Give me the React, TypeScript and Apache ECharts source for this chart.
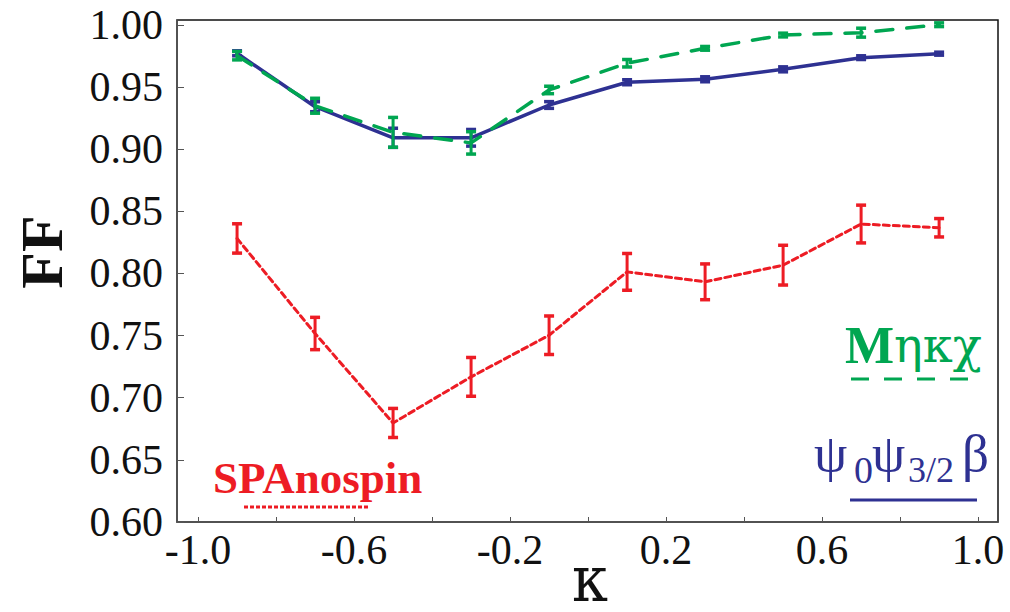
import React, { useEffect, useRef } from "react";
import * as echarts from "echarts";

const kappa = [-0.9, -0.7, -0.5, -0.3, -0.1, 0.1, 0.3, 0.5, 0.7, 0.9];

const mnkxFF = [0.9753, 0.935, 0.9136, 0.9051, 0.9477, 0.9692, 0.9812, 0.9919, 0.9938, 1.0002];
const mnkxErr = [0.0034, 0.006, 0.012, 0.009, 0.003, 0.003, 0.0015, 0.0015, 0.0036, 0.0015];

const psiFF = [0.9772, 0.9342, 0.9092, 0.9092, 0.9356, 0.9539, 0.9563, 0.9643, 0.9737, 0.9769];
const psiErr = [0.002, 0.004, 0.0077, 0.0067, 0.0027, 0.002, 0.002, 0.002, 0.0015, 0.0012];

const spaFF = [0.8282, 0.7517, 0.6797, 0.7168, 0.7503, 0.8013, 0.7933, 0.8067, 0.8398, 0.8368];
const spaErr = [0.0118, 0.013, 0.0117, 0.0156, 0.0155, 0.0148, 0.0144, 0.016, 0.0152, 0.0074];

const xTickValues = [-1.0, -0.8, -0.6, -0.4, -0.2, 0.0, 0.2, 0.4, 0.6, 0.8, 1.0];
const xLabelValues = [-1.0, -0.6, -0.2, 0.2, 0.6, 1.0];
const yTickValues = [0.6, 0.65, 0.7, 0.75, 0.8, 0.85, 0.9, 0.95, 1.0];

const GREEN = "#00a651";
const BLUE = "#2e3192";
const RED = "#ed1c24";
const SERIF = "Liberation Serif";
const GREEK = "DejaVu Serif";

function errorSeries(vals: number[], errs: number[], color: string, z: number) {
  return {
    type: "custom",
    z,
    encode: { x: 0, y: [1, 2, 3] },
    data: kappa.map((k, i) => [k, vals[i], vals[i] - errs[i], vals[i] + errs[i]]),
    renderItem: (_params: any, api: any) => {
      const x = api.value(0);
      const lo = api.coord([x, api.value(2)]);
      const hi = api.coord([x, api.value(3)]);
      const half = 5;
      const st = { stroke: color, lineWidth: 3 };
      return {
        type: "group",
        children: [
          { type: "line", shape: { x1: lo[0], y1: lo[1], x2: hi[0], y2: hi[1] }, style: st },
          { type: "line", shape: { x1: lo[0] - half, y1: lo[1], x2: lo[0] + half, y2: lo[1] }, style: { ...st, lineWidth: 3.5 } },
          { type: "line", shape: { x1: hi[0] - half, y1: hi[1], x2: hi[0] + half, y2: hi[1] }, style: { ...st, lineWidth: 3.5 } },
        ],
      };
    },
  };
}

function lineSeries(vals: number[], color: string, dash: any, width: number, z: number) {
  return {
    type: "line",
    z,
    data: kappa.map((k, i) => [k, vals[i]]),
    symbol: "none",
    lineStyle: { color, width, type: dash, cap: "round" },
  };
}

export default function App() {
  const ref = useRef<HTMLDivElement>(null);
  useEffect(() => {
    const chart = echarts.init(ref.current!, null, { renderer: "svg" });
    const option: any = {
      animation: false,
      backgroundColor: "#ffffff",
      grid: {
        left: 177,
        top: 20,
        width: 821,
        height: 502,
        show: true,
        borderColor: "#111",
        borderWidth: 1.5,
        backgroundColor: "transparent",
      },
      xAxis: {
        type: "value",
        min: -1.054,
        max: 1.051,
        axisLine: { show: true, onZero: false, lineStyle: { color: "#555", width: 1.5 } },
        axisTick: { show: true, inside: true, length: 5, customValues: xTickValues, lineStyle: { color: "#555" } },
        axisLabel: {
          customValues: xLabelValues,
          formatter: (v: number) => v.toFixed(1),
          fontFamily: SERIF,
          fontSize: 42,
          color: "#111",
          margin: 7,
        },
        splitLine: { show: false },
      },
      yAxis: {
        type: "value",
        min: 0.6,
        max: 1.004,
        axisLine: { show: true, onZero: false, lineStyle: { color: "#555", width: 1.5 } },
        axisTick: { show: true, inside: true, length: 7, customValues: yTickValues, lineStyle: { color: "#555" } },
        axisLabel: {
          customValues: yTickValues,
          formatter: (v: number) => v.toFixed(2),
          fontFamily: SERIF,
          fontSize: 42,
          color: "#111",
          margin: 14,
        },
        splitLine: { show: false },
      },
      graphic: [
        {
          type: "text",
          x: 42,
          y: 252,
          rotation: Math.PI / 2,
          style: { text: "FF", fontFamily: SERIF, fontWeight: "bold", fontSize: 60, fill: "#111", align: "center", verticalAlign: "middle" },
        },
        {
          type: "text",
          x: 590,
          y: 578,
          scaleX: 0.9,
          style: { text: "κ", fontFamily: GREEK, fontSize: 64, fill: "#111", align: "center", verticalAlign: "middle" },
        },
        // green legend
        {
          type: "text",
          x: 845,
          y: 345,
          style: {
            text: "{b|M}{n|ηκχ}",
            fill: GREEN,
            align: "left",
            verticalAlign: "middle",
            rich: {
              b: { fontFamily: SERIF, fontWeight: "bold", fontSize: 52, fill: GREEN },
              n: { fontFamily: GREEK, fontSize: 48, fill: GREEN },
            },
          },
        },
        {
          type: "line",
          shape: { x1: 851, y1: 379, x2: 972, y2: 379 },
          style: { stroke: GREEN, lineWidth: 3, lineDash: [18, 15] },
        },
        // blue legend
        {
          type: "text",
          x: 814,
          y: 453,
          style: { text: "ψ", fontFamily: SERIF, fontSize: 53, fill: BLUE, align: "left", verticalAlign: "middle" },
        },
        {
          type: "text",
          x: 854,
          y: 470,
          style: { text: "0", fontFamily: SERIF, fontSize: 38, fill: BLUE, align: "left", verticalAlign: "middle" },
        },
        {
          type: "text",
          x: 872,
          y: 453,
          style: { text: "ψ", fontFamily: SERIF, fontSize: 53, fill: BLUE, align: "left", verticalAlign: "middle" },
        },
        {
          type: "text",
          x: 908,
          y: 470,
          style: { text: "3/2", fontFamily: SERIF, fontSize: 36, fill: BLUE, align: "left", verticalAlign: "middle" },
        },
        {
          type: "text",
          x: 962,
          y: 453,
          style: { text: "β", fontFamily: SERIF, fontSize: 53, fill: BLUE, align: "left", verticalAlign: "middle" },
        },
        {
          type: "line",
          shape: { x1: 850, y1: 500, x2: 977, y2: 500 },
          style: { stroke: BLUE, lineWidth: 3 },
        },
        // red legend
        {
          type: "text",
          x: 213,
          y: 478,
          style: { text: "SPAnospin", fontFamily: SERIF, fontWeight: "bold", fontSize: 45, fill: RED, align: "left", verticalAlign: "middle" },
        },
        {
          type: "line",
          shape: { x1: 244, y1: 507, x2: 370, y2: 507 },
          style: { stroke: RED, lineWidth: 3, lineDash: [4, 2] },
        },
      ],
      series: [
        lineSeries(spaFF, RED, [6, 4], 3, 2),
        errorSeries(spaFF, spaErr, RED, 3),
        lineSeries(psiFF, BLUE, "solid", 3.5, 4),
        errorSeries(psiFF, psiErr, BLUE, 5),
        lineSeries(mnkxFF, GREEN, [17, 14], 3.5, 6),
        errorSeries(mnkxFF, mnkxErr, GREEN, 7),
      ],
    };
    chart.setOption(option);
    return () => chart.dispose();
  }, []);
  return (
    <div
      ref={ref}
      style={{ position: "fixed", left: 0, top: 0, width: 1010, height: 612, background: "#fff" }}
    />
  );
}
